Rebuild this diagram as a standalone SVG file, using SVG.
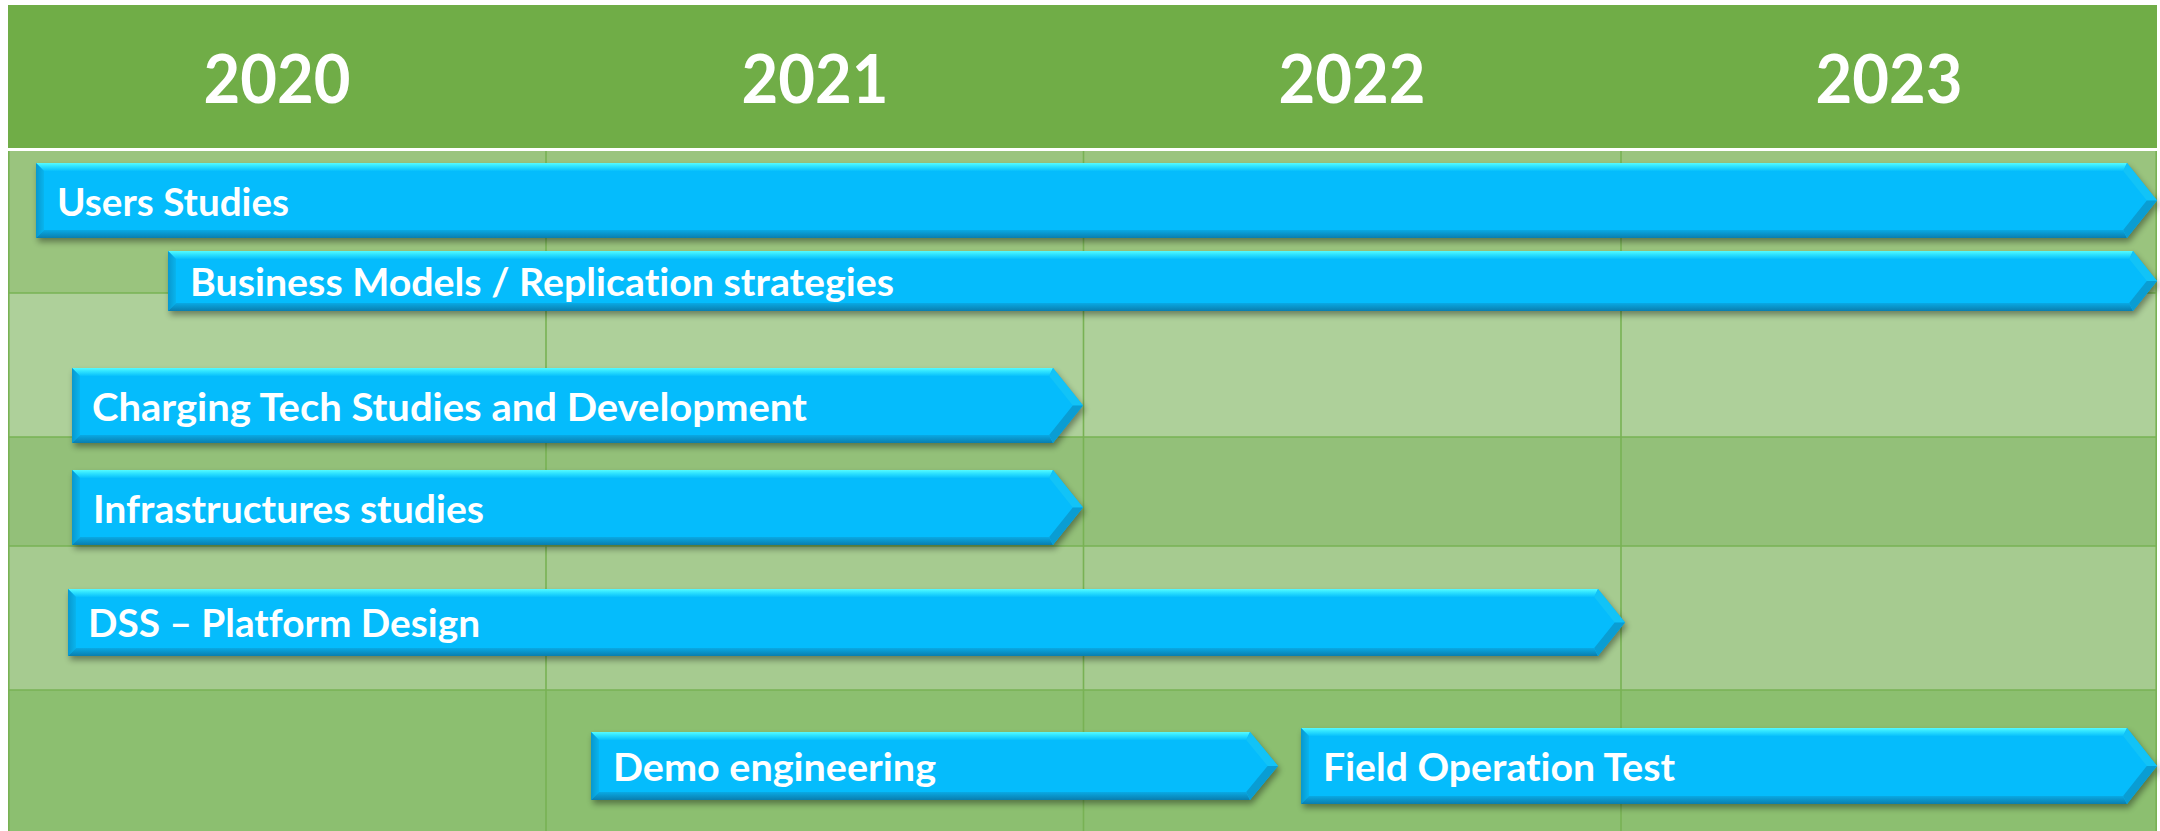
<svg xmlns="http://www.w3.org/2000/svg" width="2160" height="831" viewBox="0 0 2160 831">
  <style>
    .year { font-family: Lato, "Open Sans", "Liberation Sans", sans-serif; font-weight: 700; font-size: 67px; fill: #FFFFFF; text-anchor: middle; font-variant-ligatures: none; font-feature-settings: "liga" 0, "clig" 0; }
    .lbl { font-family: Lato, "Open Sans", "Liberation Sans", sans-serif; font-weight: 700; font-size: 39px; fill: #FFFFFF; font-variant-ligatures: none; font-feature-settings: "liga" 0, "clig" 0, "dlig" 0; }
    .grid { stroke: #78B254; stroke-width: 1.6; fill: none; }
    .shadow { fill: #000000; opacity: 0.38; filter: url(#blur); }
    .face { fill: #05BCFC; }
    .bt { fill: url(#gTop); }
    .bl { fill: url(#gLeft); }
    .bb { fill: url(#gBottom); }
    .hu { fill: #12C3F7; }
    .hl { fill: #0A9DD3; }
  </style>
  <defs>
    <filter id="blur" x="-5%" y="-30%" width="110%" height="160%">
      <feGaussianBlur stdDeviation="3"/>
    </filter>
    <linearGradient id="gTop" x1="0" y1="0" x2="0" y2="1">
      <stop offset="0" stop-color="#55FBFF"/>
      <stop offset="0.4" stop-color="#30E4FF"/>
      <stop offset="1" stop-color="#08C0FC"/>
    </linearGradient>
    <linearGradient id="gLeft" x1="0" y1="0" x2="1" y2="0">
      <stop offset="0" stop-color="#0898CE"/>
      <stop offset="1" stop-color="#08B4EE"/>
    </linearGradient>
    <linearGradient id="gBottom" x1="0" y1="0" x2="0" y2="1">
      <stop offset="0" stop-color="#09A9E4"/>
      <stop offset="1" stop-color="#0A7EAE"/>
    </linearGradient>
  </defs>

  <rect x="0" y="0" width="2160" height="831" fill="#FFFFFF"/>

  <g id="table">
    <rect x="8" y="5" width="2149" height="143" fill="#70AD47"/>
    <rect x="8" y="151" width="2149" height="142" fill="#9AC47E"/>
    <rect x="8" y="293" width="2149" height="144" fill="#AED09A"/>
    <rect x="8" y="437" width="2149" height="109" fill="#93C079"/>
    <rect x="8" y="546" width="2149" height="144" fill="#A6CB90"/>
    <rect x="8" y="690" width="2149" height="141" fill="#8CBF70"/>
    <path class="grid" d="M8 293H2157M8 437H2157M8 546H2157M8 690H2157M546 151V831M1083.5 151V831M1621 151V831M8.8 151V831M2156.2 151V831"/>
    <text class="year" x="277" y="103" textLength="147" lengthAdjust="spacingAndGlyphs">2020</text>
    <text class="year" x="815" y="103" textLength="147" lengthAdjust="spacingAndGlyphs">2021</text>
    <text class="year" x="1352" y="103" textLength="147" lengthAdjust="spacingAndGlyphs">2022</text>
    <text class="year" x="1889" y="103" textLength="147" lengthAdjust="spacingAndGlyphs">2023</text>
  </g>

  <g id="connectors"/>

  <g id="bar-users-studies">
    <polygon class="shadow" transform="translate(2,4)" points="36,163 2127,163 2157,200.5 2127,238 36,238"/>
    <polygon class="face" points="36,163 2127,163 2157,200.5 2127,238 36,238"/>
    <polygon class="bt" points="36,163 2127,163 2123.2,171 44,171"/>
    <polygon class="bl" points="36,163 44,171 44,230 36,238"/>
    <polygon class="bb" points="36,238 44,230 2123.2,230 2127,238"/>
    <polygon class="hu" points="2127,163 2157,200.5 2146.8,200.5 2123.2,171"/>
    <polygon class="hl" points="2157,200.5 2127,238 2123.2,230 2146.8,200.5"/>
    <text class="lbl" x="57" y="216" textLength="232" lengthAdjust="spacingAndGlyphs">Users Studies</text>
  </g>

  <g id="bar-business-models">
    <polygon class="shadow" transform="translate(2,4)" points="168,251 2133,251 2157,281 2133,311 168,311"/>
    <polygon class="face" points="168,251 2133,251 2157,281 2133,311 168,311"/>
    <polygon class="bt" points="168,251 2133,251 2129.2,259 176,259"/>
    <polygon class="bl" points="168,251 176,259 176,303 168,311"/>
    <polygon class="bb" points="168,311 176,303 2129.2,303 2133,311"/>
    <polygon class="hu" points="2133,251 2157,281 2146.8,281 2129.2,259"/>
    <polygon class="hl" points="2157,281 2133,311 2129.2,303 2146.8,281"/>
    <text class="lbl" x="190" y="296" textLength="704" lengthAdjust="spacingAndGlyphs">Business Models / Replication strategies</text>
  </g>

  <g id="bar-charging-tech">
    <polygon class="shadow" transform="translate(2,4)" points="72,368 1053,368 1083,405.5 1053,443 72,443"/>
    <polygon class="face" points="72,368 1053,368 1083,405.5 1053,443 72,443"/>
    <polygon class="bt" points="72,368 1053,368 1049.2,376 80,376"/>
    <polygon class="bl" points="72,368 80,376 80,435 72,443"/>
    <polygon class="bb" points="72,443 80,435 1049.2,435 1053,443"/>
    <polygon class="hu" points="1053,368 1083,405.5 1072.8,405.5 1049.2,376"/>
    <polygon class="hl" points="1083,405.5 1053,443 1049.2,435 1072.8,405.5"/>
    <text class="lbl" x="92" y="421" textLength="715" lengthAdjust="spacingAndGlyphs">Charging Tech Studies and Development</text>
  </g>

  <g id="bar-infrastructures">
    <polygon class="shadow" transform="translate(2,4)" points="72,470 1053,470 1083,507.5 1053,545 72,545"/>
    <polygon class="face" points="72,470 1053,470 1083,507.5 1053,545 72,545"/>
    <polygon class="bt" points="72,470 1053,470 1049.2,478 80,478"/>
    <polygon class="bl" points="72,470 80,478 80,537 72,545"/>
    <polygon class="bb" points="72,545 80,537 1049.2,537 1053,545"/>
    <polygon class="hu" points="1053,470 1083,507.5 1072.8,507.5 1049.2,478"/>
    <polygon class="hl" points="1083,507.5 1053,545 1049.2,537 1072.8,507.5"/>
    <text class="lbl" x="93" y="523" textLength="391" lengthAdjust="spacingAndGlyphs">Infrastructures studies</text>
  </g>

  <g id="bar-dss-platform">
    <polygon class="shadow" transform="translate(2,4)" points="68,589 1598,589 1625,622.5 1598,656 68,656"/>
    <polygon class="face" points="68,589 1598,589 1625,622.5 1598,656 68,656"/>
    <polygon class="bt" points="68,589 1598,589 1594.2,597 76,597"/>
    <polygon class="bl" points="68,589 76,597 76,648 68,656"/>
    <polygon class="bb" points="68,656 76,648 1594.2,648 1598,656"/>
    <polygon class="hu" points="1598,589 1625,622.5 1614.7,622.5 1594.2,597"/>
    <polygon class="hl" points="1625,622.5 1598,656 1594.2,648 1614.7,622.5"/>
    <text class="lbl" x="88" y="637" textLength="392" lengthAdjust="spacingAndGlyphs">DSS – Platform Design</text>
  </g>

  <g id="bar-demo-engineering">
    <polygon class="shadow" transform="translate(2,4)" points="591,732 1250,732 1278,766 1250,800 591,800"/>
    <polygon class="face" points="591,732 1250,732 1278,766 1250,800 591,800"/>
    <polygon class="bt" points="591,732 1250,732 1246.2,740 599,740"/>
    <polygon class="bl" points="591,732 599,740 599,792 591,800"/>
    <polygon class="bb" points="591,800 599,792 1246.2,792 1250,800"/>
    <polygon class="hu" points="1250,732 1278,766 1267.6,766 1246.2,740"/>
    <polygon class="hl" points="1278,766 1250,800 1246.2,792 1267.6,766"/>
    <text class="lbl" x="613" y="781" textLength="323" lengthAdjust="spacingAndGlyphs">Demo engineering</text>
  </g>

  <g id="bar-field-operation-test">
    <polygon class="shadow" transform="translate(2,4)" points="1301,728 2127,728 2157,766 2127,804 1301,804"/>
    <polygon class="face" points="1301,728 2127,728 2157,766 2127,804 1301,804"/>
    <polygon class="bt" points="1301,728 2127,728 2123.1,736 1309,736"/>
    <polygon class="bl" points="1301,728 1309,736 1309,796 1301,804"/>
    <polygon class="bb" points="1301,804 1309,796 2123.1,796 2127,804"/>
    <polygon class="hu" points="2127,728 2157,766 2146.8,766 2123.1,736"/>
    <polygon class="hl" points="2157,766 2127,804 2123.1,796 2146.8,766"/>
    <text class="lbl" x="1323" y="781" textLength="352" lengthAdjust="spacingAndGlyphs">Field Operation Test</text>
  </g>
</svg>
